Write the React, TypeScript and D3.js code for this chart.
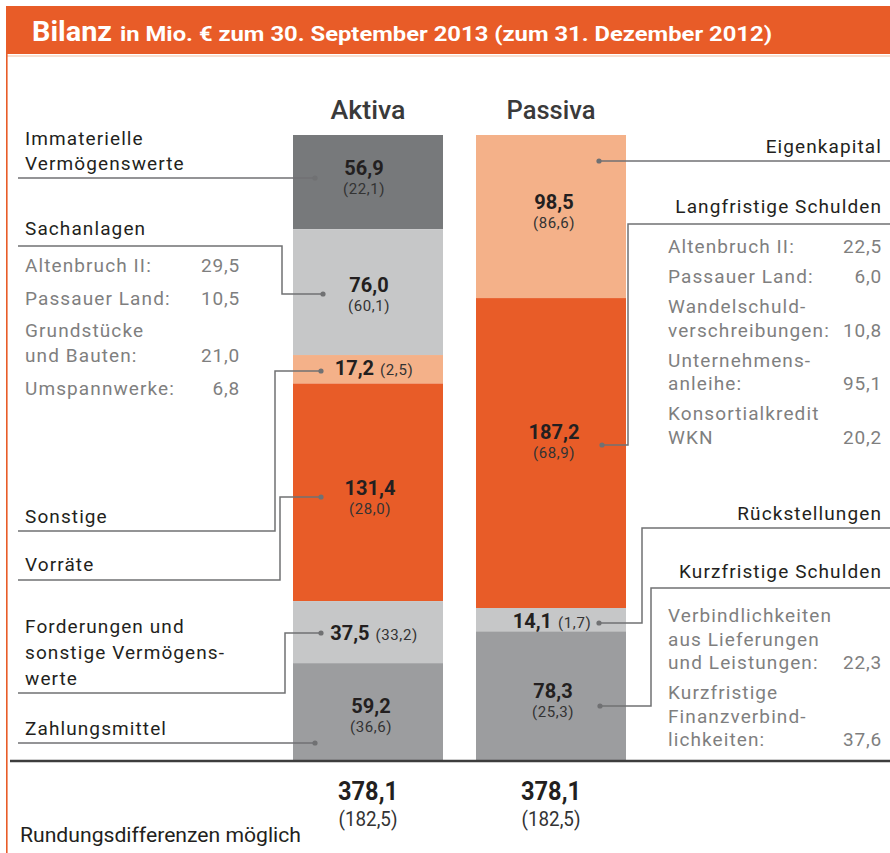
import React from "react";
import * as d3 from "d3";

// ---------- data ----------
const aktivaCategories = [
  "Immaterielle|Vermögenswerte",
  "Sachanlagen",
  "Sonstige",
  "Vorräte",
  "Forderungen und|sonstige Vermögens-|werte",
  "Zahlungsmittel",
];
const aktivaValues = [56.9, 76.0, 17.2, 131.4, 37.5, 59.2];
const aktivaPrior = [22.1, 60.1, 2.5, 28.0, 33.2, 36.6];

const passivaCategories = [
  "Eigenkapital",
  "Langfristige Schulden",
  "Rückstellungen",
  "Kurzfristige Schulden",
];
const passivaValues = [98.5, 187.2, 14.1, 78.3];
const passivaPrior = [86.6, 68.9, 1.7, 25.3];

const totalCurrent = 378.1;
const totalPrior = 182.5;

const sachanlagenItems = ["Altenbruch II:", "Passauer Land:", "Grundstücke|und Bauten:", "Umspannwerke:"];
const sachanlagenValues = [29.5, 10.5, 21.0, 6.8];

const langfristigItems = [
  "Altenbruch II:",
  "Passauer Land:",
  "Wandelschuld-|verschreibungen:",
  "Unternehmens-|anleihe:",
  "Konsortialkredit|WKN",
];
const langfristigValues = [22.5, 6.0, 10.8, 95.1, 20.2];

const kurzfristigItems = [
  "Verbindlichkeiten|aus Lieferungen|und Leistungen:",
  "Kurzfristige|Finanzverbind-|lichkeiten:",
];
const kurzfristigValues = [22.3, 37.6];

const columnTitles = ["Aktiva", "Passiva"];

// ---------- styles / layout ----------
const W = 890;
const H = 853;
const ORANGE = "#e85c28";
const LIGHT_ORANGE = "#f4b189";
const DARK_GRAY = "#77797b";
const LIGHT_GRAY = "#c6c7c8";
const MID_GRAY = "#9c9d9f";
const LINE = "#707173";
const TEXT = "#231f20";
const SUB = "#7f7f7f";
const FONT = "Roboto, 'Noto Sans', sans-serif";
const LABEL_SIZE = 19;
const LABEL_LS = 1.1;

const aktivaColors = [DARK_GRAY, LIGHT_GRAY, LIGHT_ORANGE, ORANGE, LIGHT_GRAY, MID_GRAY];
const passivaColors = [LIGHT_ORANGE, ORANGE, LIGHT_GRAY, MID_GRAY];

// label layout (positions only)
const aktivaLayout = [
  { labelY: 145, lineY: 178, elbowX: null, dotX: 315, dotY: 178, valueDy: -7, dx: -4, inline: false },
  { labelY: 235, lineY: 246, elbowX: 282, dotX: 323, dotY: 294, valueDy: 0, dx: 1, inline: false },
  { labelY: 523, lineY: 531, elbowX: 275, dotX: 321, dotY: 371, valueDy: 6, dx: 6, inline: true },
  { labelY: 571, lineY: 580, elbowX: 280, dotX: 321, dotY: 497, valueDy: 3, dx: 2, inline: false },
  { labelY: 633, lineY: 693, elbowX: 285, dotX: 321, dotY: 633, valueDy: 8, dx: 6, inline: true },
  { labelY: 735, lineY: 743, elbowX: null, dotX: 315, dotY: 743, valueDy: 1, dx: 3, inline: false },
];
const passivaLayout = [
  { labelY: 153, lineY: 161, elbowX: null, dotX: 599, dotY: 161, valueDy: -8, dx: 3, inline: false },
  { labelY: 213, lineY: 224, elbowX: 628, dotX: 602, dotY: 445, valueDy: -14, dx: 3, inline: false },
  { labelY: 520, lineY: 528, elbowX: 642, dotX: 599, dotY: 623, valueDy: 8, dx: 1, inline: true },
  { labelY: 578, lineY: 588, elbowX: 651, dotX: 600, dotY: 706, valueDy: 2, dx: 2, inline: false },
];

const fmt = (v: number) => d3.format(".1f")(v).replace(".", ",");

const y = d3.scaleLinear().domain([0, totalCurrent]).range([135, 761]);
const x = d3.scaleBand().domain(columnTitles).range([293, 626]).paddingInner(33 / 183);

function stack(values: number[]) {
  const ends = d3.cumsum(values);
  return values.map((v, i) => ({ v, y0: ends[i] - v, y1: ends[i] }));
}

function SubList({ items, values, x0, x1, startY, lineH, gap }: any) {
  let cy = startY;
  const out: any[] = [];
  items.forEach((it: string, i: number) => {
    const lines = it.split("|");
    lines.forEach((ln, j) => {
      out.push(
        <text key={`${i}-${j}`} x={x0} y={cy + j * lineH} fill={SUB} fontSize={LABEL_SIZE} letterSpacing={LABEL_LS}>
          {ln}
        </text>
      );
    });
    const last = cy + (lines.length - 1) * lineH;
    out.push(
      <text key={`v${i}`} x={x1} y={last} fill={SUB} fontSize={LABEL_SIZE} textAnchor="end" letterSpacing={0.8}>
        {fmt(values[i])}
      </text>
    );
    cy = last + gap;
  });
  return <g fontFamily={FONT}>{out}</g>;
}

export default function App() {
  const aSeg = stack(aktivaValues);
  const pSeg = stack(passivaValues);
  const bw = x.bandwidth();
  const ax = x("Aktiva")!;
  const px = x("Passiva")!;
  const acx = ax + bw / 2;
  const pcx = px + bw / 2;

  const valueLabel = (seg: any, prior: number, cx: number, lay: any, key: string) => {
    const mid = (y(seg.y0) + y(seg.y1)) / 2;
    if (lay.inline) {
      return (
        <text key={key} x={cx + lay.dx} y={mid + lay.valueDy} textAnchor="middle" fontFamily={FONT} fill={TEXT}>
          <tspan fontWeight={700} fontSize={20}>{fmt(seg.v)}</tspan>
          <tspan fontSize={15} dx={6} fill="#333" letterSpacing={0.6}>({fmt(prior)})</tspan>
        </text>
      );
    }
    return (
      <g key={key} fontFamily={FONT} textAnchor="middle">
        <text x={cx + lay.dx} y={mid + lay.valueDy} fontWeight={700} fontSize={20} fill={TEXT}>
          {fmt(seg.v)}
        </text>
        <text x={cx + lay.dx} y={mid + lay.valueDy + 19} fontSize={15} fill="#333" letterSpacing={0.6}>
          ({fmt(prior)})
        </text>
      </g>
    );
  };

  return (
    <svg width={W} height={H} style={{ position: "absolute", left: 0, top: 0, display: "block", background: "#fff" }}>
      {/* header */}
      <rect x={6} y={6} width={W - 6} height={48} fill={ORANGE} />
      <line x1={7} x2={W} y1={56} y2={56} stroke="#f6d5c0" strokeWidth={1.5} />
      <line x1={6.8} x2={6.8} y1={54} y2={H} stroke={ORANGE} strokeWidth={1.6} />
      <text x={32} y={41} fill="#fff" fontFamily={FONT} fontWeight={700} fontSize={27} textLength={80} lengthAdjust="spacingAndGlyphs">
        Bilanz
      </text>
      <text x={120} y={41} fill="#fff" fontFamily={FONT} fontWeight={700} fontSize={19.5} textLength={652} lengthAdjust="spacingAndGlyphs">
        in Mio. € zum 30. September 2013 (zum 31. Dezember 2012)
      </text>

      {/* column titles */}
      {columnTitles.map((t, i) => (
        <text key={t} x={x(t)! + bw / 2} y={119} textAnchor="middle" fontFamily={FONT} fontWeight={500} fontSize={26}
          fill="#3a3a3a" textLength={i === 0 ? 75 : 89} lengthAdjust="spacingAndGlyphs">
          {t}
        </text>
      ))}

      {/* bars */}
      {aSeg.map((s, i) => (
        <rect key={`a${i}`} x={ax} y={y(s.y0)} width={bw} height={y(s.y1) - y(s.y0)} fill={aktivaColors[i]} />
      ))}
      {pSeg.map((s, i) => (
        <rect key={`p${i}`} x={px} y={y(s.y0)} width={bw} height={y(s.y1) - y(s.y0)} fill={passivaColors[i]} />
      ))}

      {/* baseline */}
      <line x1={10} x2={W} y1={761} y2={761} stroke="#3d3d3d" strokeWidth={2.5} />

      {/* value labels */}
      {aSeg.map((s, i) => valueLabel(s, aktivaPrior[i], acx, aktivaLayout[i], `av${i}`))}
      {pSeg.map((s, i) => valueLabel(s, passivaPrior[i], pcx, passivaLayout[i], `pv${i}`))}

      {/* leader lines aktiva */}
      {aktivaLayout.map((l, i) => {
        const d = l.elbowX == null
          ? `M18,${l.lineY}H${l.dotX}`
          : `M18,${l.lineY}H${l.elbowX}V${l.dotY}H${l.dotX}`;
        return (
          <g key={`al${i}`}>
            <path d={d} fill="none" stroke={LINE} strokeWidth={1.5} />
            <circle cx={l.dotX} cy={l.dotY} r={2.6} fill={LINE} />
          </g>
        );
      })}
      {passivaLayout.map((l, i) => {
        const d = l.elbowX == null
          ? `M${W},${l.lineY}H${l.dotX}`
          : `M${W},${l.lineY}H${l.elbowX}V${l.dotY}H${l.dotX}`;
        return (
          <g key={`pl${i}`}>
            <path d={d} fill="none" stroke={LINE} strokeWidth={1.5} />
            <circle cx={l.dotX} cy={l.dotY} r={2.6} fill={LINE} />
          </g>
        );
      })}

      {/* category labels aktiva */}
      {aktivaCategories.map((c, i) => {
        const lines = c.split("|");
        const lh = lines.length === 2 ? 25 : 26;
        return (
          <text key={`ac${i}`} fontFamily={FONT} fontSize={LABEL_SIZE} fill={TEXT} letterSpacing={LABEL_LS}>
            {lines.map((ln, j) => (
              <tspan key={j} x={25} y={aktivaLayout[i].labelY + j * lh}>{ln}</tspan>
            ))}
          </text>
        );
      })}
      {passivaCategories.map((c, i) => (
        <text key={`pc${i}`} x={882} y={passivaLayout[i].labelY} textAnchor="end" fontFamily={FONT} fontSize={LABEL_SIZE} fill={TEXT} letterSpacing={LABEL_LS}>
          {c}
        </text>
      ))}

      {/* sub lists */}
      <SubList items={sachanlagenItems} values={sachanlagenValues} x0={25} x1={240} startY={272} lineH={25} gap={32.5} />
      <SubList items={langfristigItems} values={langfristigValues} x0={668} x1={882} startY={253} lineH={23.5} gap={30} />
      <SubList items={kurzfristigItems} values={kurzfristigValues} x0={668} x1={882} startY={622} lineH={23.5} gap={30} />

      {/* totals */}
      {columnTitles.map((t) => (
        <g key={`t${t}`} fontFamily={FONT} textAnchor="middle" fill={TEXT}>
          <text x={x(t)! + bw / 2} y={800} fontWeight={700} fontSize={26} textLength={60} lengthAdjust="spacingAndGlyphs">
            {fmt(totalCurrent)}
          </text>
          <text x={x(t)! + bw / 2} y={826} fontSize={19.5} textLength={59} lengthAdjust="spacingAndGlyphs" fill="#333">
            ({fmt(totalPrior)})
          </text>
        </g>
      ))}

      <text x={20} y={842} fontFamily={FONT} fontSize={19.5} fill={TEXT} textLength={281} lengthAdjust="spacingAndGlyphs">
        Rundungsdifferenzen möglich
      </text>
    </svg>
  );
}
